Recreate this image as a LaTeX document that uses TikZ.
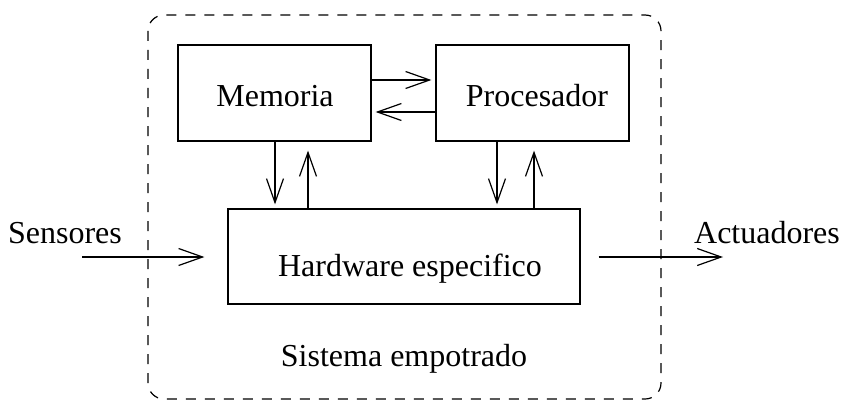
\documentclass[tikz,border=0pt]{standalone}
\usepackage{fontspec}
\setmainfont{Liberation Serif}
\usetikzlibrary{arrows.meta}
\begin{document}
\begin{tikzpicture}[x=0.5pt,y=-0.5pt,
  every node/.style={font=\fontsize{16}{19}\selectfont},
  unit/.style={draw,line width=0.6pt,minimum width=96.5pt,minimum height=48pt,inner sep=0pt},
  flow/.style={line width=0.6pt,-{Straight Barb[length=12pt,width=8.5pt,line width=0.6pt]}},
  lbl/.style={inner sep=0pt,anchor=base}]
\useasboundingbox (0,0) rectangle (844,401);
% enclosing system boundary
\draw[line width=0.6pt,dash pattern=on 5pt off 4.5pt,rounded corners=8pt]
  (148,15) rectangle (661,399);
\node[lbl] (sys) at (404,366) {Sistema empotrado};
% main blocks
\node[unit] (mem) at (274.5,93) {};
\node[lbl] at (275,106) {Memoria};
\node[unit] (proc) at (532.5,93) {};
\node[lbl] at (537,106) {Procesador};
\node[unit,minimum width=176pt,minimum height=47.5pt] (hw) at (404,256.5) {};
\node[lbl] at (410,276) {Hardware especifico};
% links between memory and processor
\draw[flow] (mem.east |- 0,80) -- ([xshift=-2pt]proc.west |- 0,80);
\draw[flow] (proc.west |- 0,112) -- ([xshift=2pt]mem.east |- 0,112);
% links to the hardware block
\draw[flow] (275,0 |- mem.south) -- ([yshift=2pt]275,0 |- hw.north);
\draw[flow] (308,0 |- hw.north) -- ([yshift=-4.5pt]308,0 |- mem.south);
\draw[flow] (497,0 |- proc.south) -- ([yshift=2pt]497,0 |- hw.north);
\draw[flow] (534,0 |- hw.north) -- ([yshift=-4.5pt]534,0 |- proc.south);
% external inputs and outputs
\coordinate (in) at (82,257);
\coordinate (out) at (723,257);
\draw[flow] (in) -- ([xshift=-11.5pt]hw.west |- in);
\draw[flow] ([xshift=9pt]hw.east |- out) -- (out);
\node[lbl] (sens) at (65,243) {Sensores};
\node[lbl] (act) at (767,243) {Actuadores};
\end{tikzpicture}
\end{document}
